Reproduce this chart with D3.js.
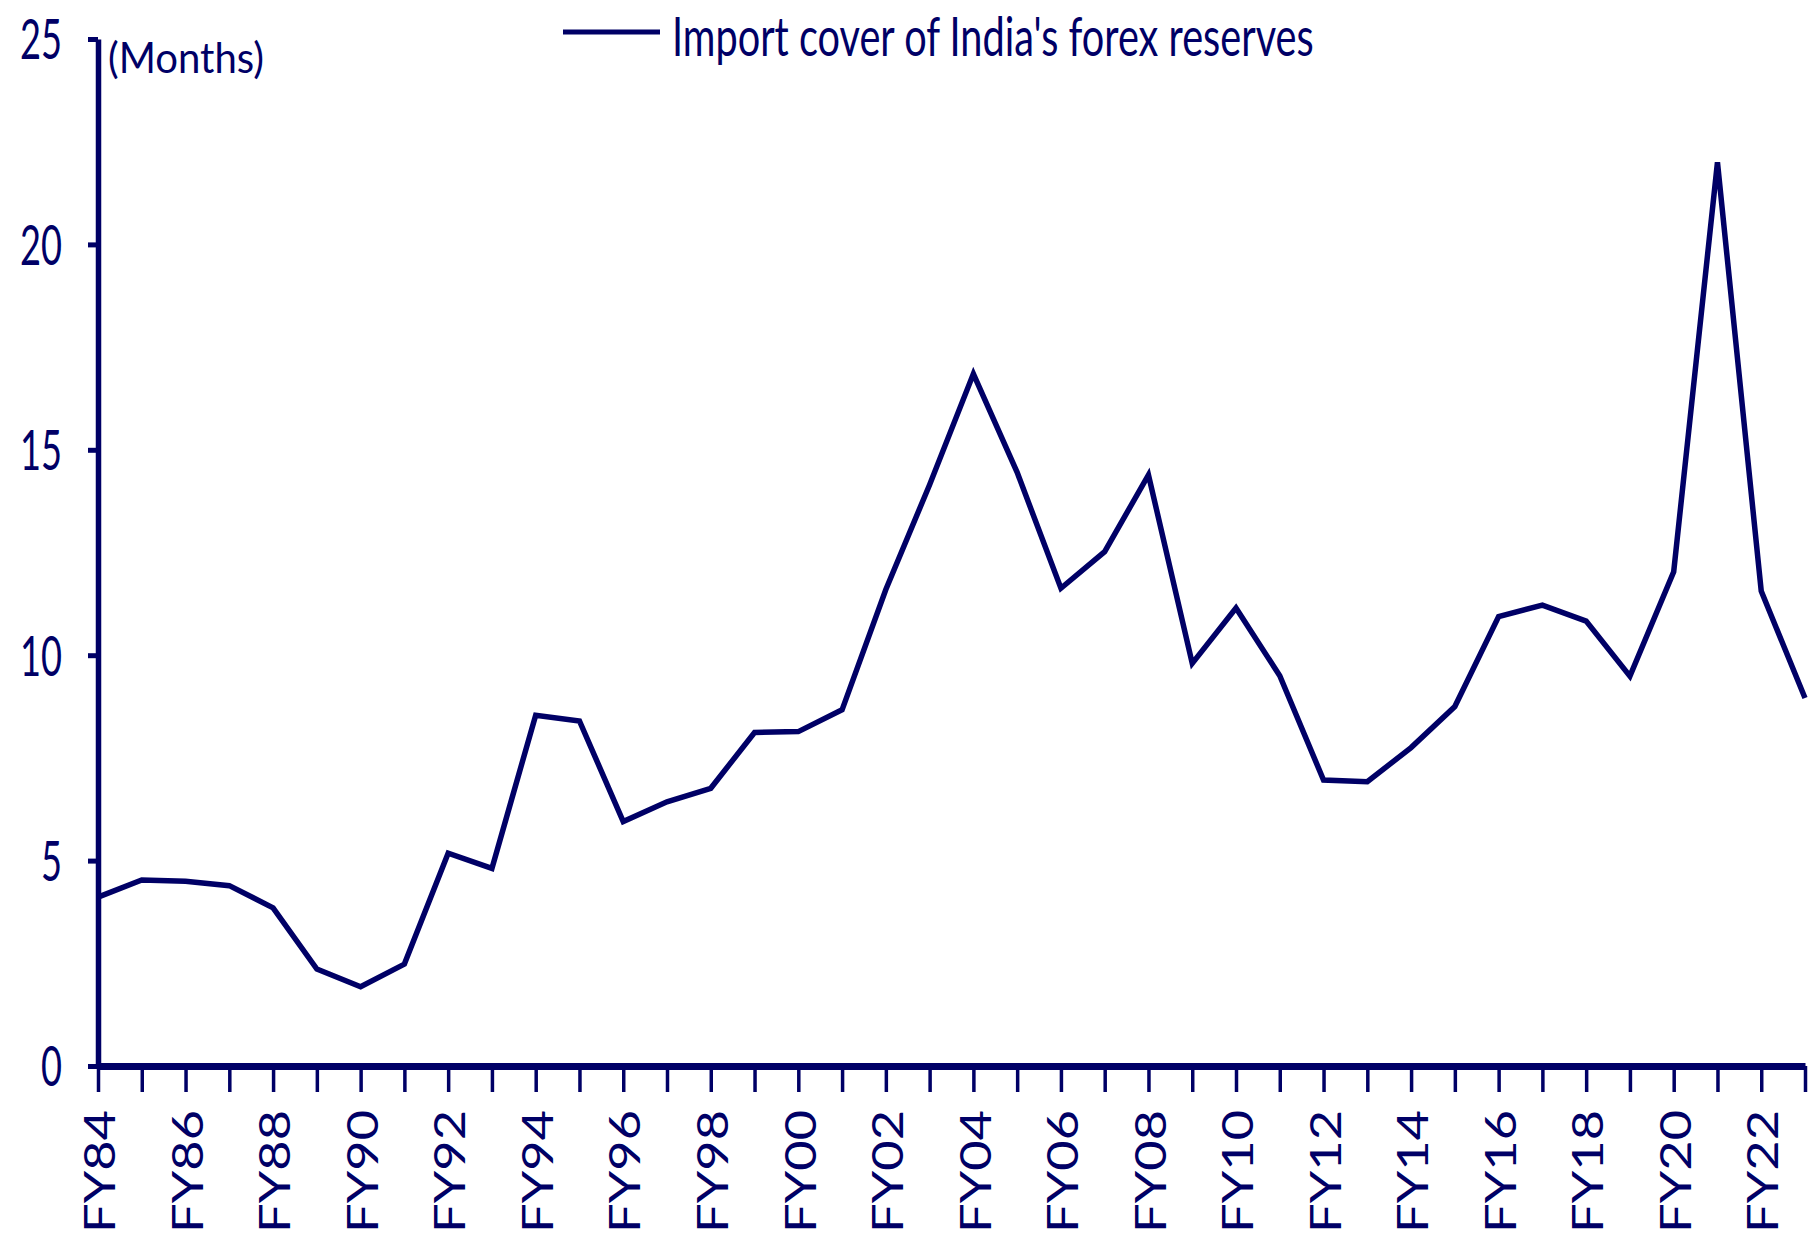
<!DOCTYPE html>
<html>
<head>
<meta charset="utf-8">
<script src="https://cdn.jsdelivr.net/npm/d3@7"></script>
<style>
  body { margin: 0; background: #fff; }
  svg { display: block; }
</style>
</head>
<body>
<svg id="chart" width="1814" height="1238"></svg>
<script>
// Fiscal years on the category axis
const years = ["FY84","FY85","FY86","FY87","FY88","FY89","FY90","FY91","FY92","FY93",
               "FY94","FY95","FY96","FY97","FY98","FY99","FY00","FY01","FY02","FY03",
               "FY04","FY05","FY06","FY07","FY08","FY09","FY10","FY11","FY12","FY13",
               "FY14","FY15","FY16","FY17","FY18","FY19","FY20","FY21","FY22","FY23"];

// Import cover of forex reserves, in months
const importCover = [4.11, 4.53, 4.50, 4.39, 3.85, 2.36, 1.93, 2.48, 5.18, 4.81,
                     8.54, 8.40, 5.95, 6.43, 6.76, 8.12, 8.14, 8.67, 11.60, 14.15,
                     16.85, 14.45, 11.63, 12.52, 14.39, 9.80, 11.15, 9.50, 6.96, 6.92,
                     7.75, 8.75, 10.94, 11.22, 10.83, 9.49, 12.03, 22.00, 11.56, 8.96];

const yTicks = [0, 5, 10, 15, 20, 25];
const xTickLabels = ["FY84","FY86","FY88","FY90","FY92","FY94","FY96","FY98","FY00","FY02",
                     "FY04","FY06","FY08","FY10","FY12","FY14","FY16","FY18","FY20","FY22"];

const seriesName = "Import cover of India's forex reserves";
const unitLabel = "(Months)";

const navy = "#000066";
const fontFamily = "Lato, 'Open Sans', 'DejaVu Sans', sans-serif";

const plot = { left: 98, right: 1805, top: 39, bottom: 1066 };

const svg = d3.select("#chart");

const x = d3.scalePoint().domain(years).range([plot.left, plot.right]);
const y = d3.scaleLinear().domain([0, 25]).range([plot.bottom, plot.top]);

const series = years.map((yr, i) => ({ year: yr, value: importCover[i] }));

// Horizontal squeeze/stretch factor that brings a text node to a target length
function fitFactor(textSel, target) {
  const len = textSel.node().getComputedTextLength();
  return len > 0 ? target / len : 1;
}

// ---- Y axis ----
const yAxisG = svg.append("g")
  .attr("transform", `translate(${plot.left},0)`)
  .call(d3.axisLeft(y).tickValues(yTicks).tickSize(10).tickSizeOuter(0).tickFormat(d3.format("d")));

yAxisG.select(".domain").attr("stroke", navy).attr("stroke-width", 5.5);
yAxisG.selectAll(".tick line").attr("stroke", navy).attr("stroke-width", 5);

const yLabels = yAxisG.selectAll(".tick text")
  .attr("fill", navy)
  .attr("font-family", fontFamily)
  .attr("font-size", 57)
  .attr("text-anchor", "end")
  .attr("x", 0)
  .attr("dy", "0.35em");

// digits are drawn narrow: about 21px per digit
const probe = svg.append("text").attr("font-family", fontFamily).attr("font-size", 57).text("0");
const ySx = fitFactor(probe, 21);
probe.remove();
yLabels.attr("transform", `translate(-36,0) scale(${ySx},1)`);

// ---- X axis ----
const xAxisG = svg.append("g")
  .attr("transform", `translate(0,${plot.bottom})`)
  .call(d3.axisBottom(x).tickSize(26).tickSizeOuter(0)
    .tickFormat(d => xTickLabels.includes(d) ? d : ""));

xAxisG.select(".domain").attr("stroke", navy).attr("stroke-width", 7);
xAxisG.selectAll(".tick line").attr("stroke", navy).attr("stroke-width", 3.5);

const xLabels = xAxisG.selectAll(".tick text")
  .attr("fill", navy)
  .attr("font-family", fontFamily)
  .attr("font-size", 42)
  .attr("text-anchor", "end")
  .attr("x", 0)
  .attr("y", 0)
  .attr("dy", "0.35em");

const xProbe = svg.append("text").attr("font-family", fontFamily).attr("font-size", 42).text("FY84");
const xSx = fitFactor(xProbe, 123);
xProbe.remove();
xLabels.attr("transform", `translate(2,44) rotate(-90) scale(${xSx},1)`);

// ---- Series line ----
const line = d3.line()
  .x(d => x(d.year))
  .y(d => y(d.value));

svg.append("path")
  .datum(series)
  .attr("fill", "none")
  .attr("stroke", navy)
  .attr("stroke-width", 5.5)
  .attr("stroke-linejoin", "miter")
  .attr("d", line);

// ---- Unit label ----
const unit = svg.append("text")
  .attr("fill", navy)
  .attr("font-family", fontFamily)
  .attr("font-size", 42)
  .text(unitLabel);
unit.attr("transform", `translate(108,73) scale(${fitFactor(unit, 156)},1)`);

// ---- Legend ----
const legend = svg.append("g");
legend.append("line")
  .attr("x1", 563).attr("x2", 660)
  .attr("y1", 32).attr("y2", 32)
  .attr("stroke", navy)
  .attr("stroke-width", 5);

const legendText = legend.append("text")
  .attr("fill", navy)
  .attr("font-family", fontFamily)
  .attr("font-size", 55)
  .text(seriesName);
legendText.attr("transform", `translate(672,56) scale(${fitFactor(legendText, 642)},1)`);
</script>
</body>
</html>
